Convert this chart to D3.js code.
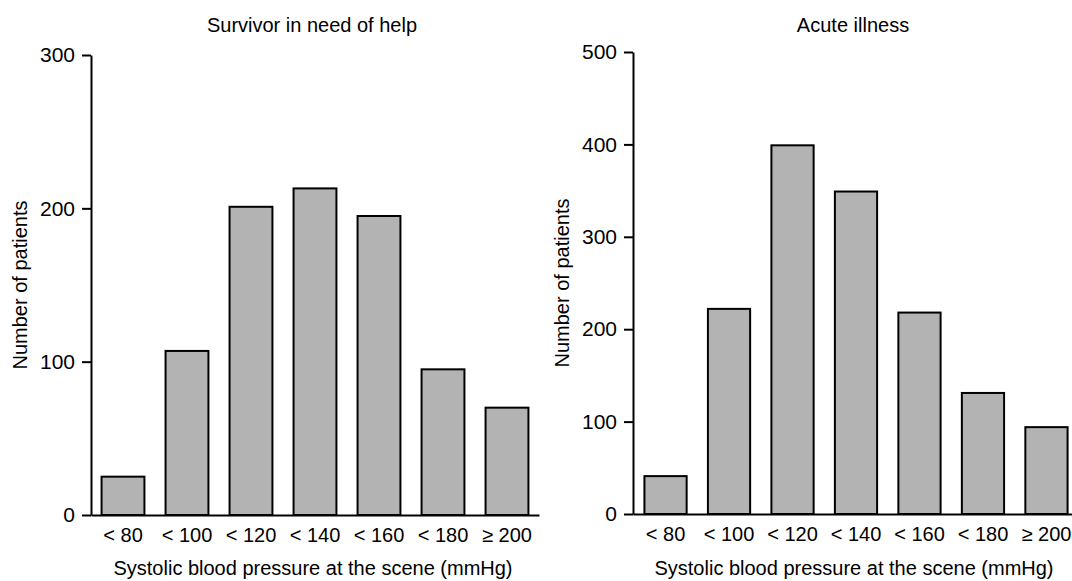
<!DOCTYPE html>
<html>
<head>
<meta charset="utf-8">
<script src="https://cdn.jsdelivr.net/npm/d3@7"></script>
<style>
  html, body { margin: 0; padding: 0; background: #fff; }
  svg { display: block; }
</style>
</head>
<body>
<div id="chart"></div>
<script>
// categories and counts
const categories = ['< 80', '< 100', '< 120', '< 140', '< 160', '< 180', '\u2265 200'];
const survivorCounts = [25, 107, 201, 213, 195, 95, 70];
const acuteCounts = [41, 222, 399, 349, 218, 131, 94];
const survivorTicks = [0, 100, 200, 300];
const acuteTicks = [0, 100, 200, 300, 400, 500];

const width = 1072;
const height = 581;
const font = '"Liberation Sans", Arial, sans-serif';

const svg = d3.select('#chart')
  .append('svg')
  .attr('width', width)
  .attr('height', height)
  .attr('viewBox', [0, 0, width, height]);

svg.append('rect')
  .attr('width', width)
  .attr('height', height)
  .attr('fill', '#fff');

function drawPanel(opts) {
  const g = svg.append('g');

  const x = d3.scaleBand()
    .domain(categories)
    .range([opts.left, opts.right])
    .paddingInner(opts.padIn)
    .paddingOuter(opts.padOut);

  const y = d3.scaleLinear()
    .domain([0, opts.max])
    .range([opts.bottom, opts.top]);

  // bars
  g.selectAll('.bar')
    .data(opts.values)
    .enter()
    .append('rect')
    .attr('x', (d, i) => x(categories[i]))
    .attr('y', d => y(d))
    .attr('width', x.bandwidth())
    .attr('height', d => y(0) - y(d))
    .attr('fill', '#b3b3b3')
    .attr('stroke', '#000')
    .attr('stroke-width', 2);

  // y axis
  const yAxis = g.append('g')
    .attr('transform', `translate(${opts.left},0)`)
    .call(d3.axisLeft(y).tickValues(opts.ticks).tickSize(9).tickPadding(7).tickSizeOuter(0));
  yAxis.select('.domain').attr('stroke-width', 2);
  yAxis.selectAll('.tick line').attr('stroke-width', 2);
  yAxis.selectAll('.tick text')
    .attr('font-family', font)
    .attr('font-size', '21px')
    .attr('fill', '#000');

  // x axis: baseline only, labels without tick marks
  const xAxis = g.append('g')
    .attr('transform', `translate(0,${opts.bottom})`)
    .call(d3.axisBottom(x).tickSize(0).tickPadding(13).tickSizeOuter(0));
  xAxis.select('.domain').attr('stroke-width', 2);
  xAxis.selectAll('.tick text')
    .attr('font-family', font)
    .attr('font-size', '20px')
    .attr('fill', '#000');

  // title
  g.append('text')
    .attr('x', (opts.left + opts.right) / 2 - 3)
    .attr('y', 32)
    .attr('text-anchor', 'middle')
    .attr('font-family', font)
    .attr('font-size', '20px')
    .text(opts.title);

  // x axis title
  g.append('text')
    .attr('x', (opts.left + opts.right) / 2 - 2)
    .attr('y', 575)
    .attr('text-anchor', 'middle')
    .attr('font-family', font)
    .attr('font-size', '20px')
    .text('Systolic blood pressure at the scene (mmHg)');

  // y axis title
  g.append('text')
    .attr('transform', `translate(${opts.ytitleX},${(opts.top + opts.bottom) / 2}) rotate(-90)`)
    .attr('text-anchor', 'middle')
    .attr('font-family', font)
    .attr('font-size', '20px')
    .text('Number of patients');
}

drawPanel({
  title: 'Survivor in need of help',
  values: survivorCounts,
  ticks: survivorTicks,
  max: 300,
  left: 91, right: 539, padIn: 0.33, padOut: 0.165,
  top: 55, bottom: 515,
  ytitleX: 27
});

drawPanel({
  title: 'Acute illness',
  values: acuteCounts,
  ticks: acuteTicks,
  max: 500,
  left: 633, right: 1079, padIn: 0.335, padOut: 0.18,
  top: 52, bottom: 514,
  ytitleX: 569
});
</script>
</body>
</html>
